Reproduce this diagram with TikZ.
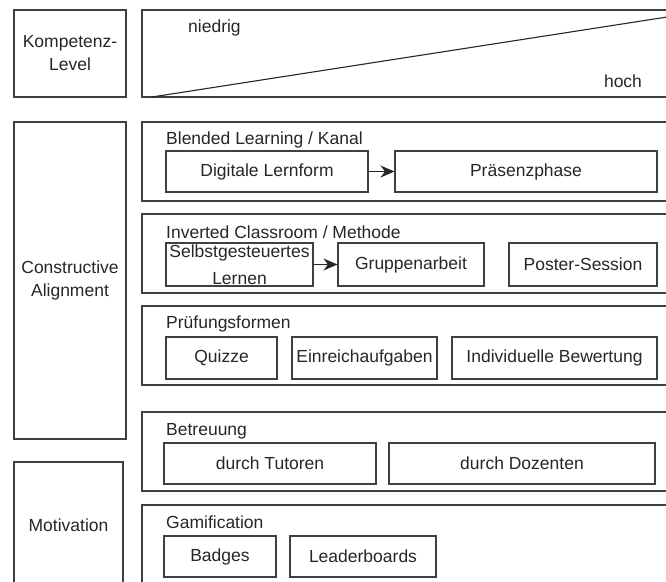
\documentclass[tikz,border=0pt]{standalone}
\usepackage{fontspec}
\setmainfont{Liberation Sans}
\usetikzlibrary{arrows.meta,positioning}

\begin{document}
\begin{tikzpicture}[x=1pt, y=-1pt, > = {Stealth[length=14pt,width=12pt]}, font=\fontsize{17.5}{23}\selectfont, text=black!85]
            % Stile
            \tikzstyle{frame}=[rectangle, draw=black!75, line width=1.1pt, inner sep=0pt, align=center]
            \tikzstyle{item}=[rectangle, draw=black!75, line width=1.1pt, inner sep=0pt, minimum height=41pt, align=center]
            \tikzstyle{title}=[anchor=west, inner sep=0pt]

            \useasboundingbox (0,0) rectangle (666,581);
            \clip (0,0) rectangle (666,581);

            % Linke Spalte
            \node[frame, minimum width=112pt, minimum height=87pt] (level) at (70,53.5) {Kompetenz-\\Level};
            \node[frame, minimum width=112pt, minimum height=317pt] (align) at (70,280.5) {Constructive\\Alignment};
            \node[frame, minimum width=109pt, minimum height=126pt] (motiv) at (68.5,525) {Motivation};

            % Kompetenz-Level
            \node[frame, minimum width=538pt, minimum height=87pt] (scale) at (411,53.5) {};
            \coordinate (low) at (152,97);
            \coordinate (high) at (680,15);
            \draw[black!85, line width=1.1pt] (low) -- (high);
            \node[title] (niedrig) at (188,28) {niedrig};
            \node (hoch) at (623,81) {hoch};

            % Blended Learning
            \node[frame, minimum width=538pt, minimum height=79pt] (blended) at (411,161.5) {};
            \node[title] (blendedT) at (166,140) {Blended Learning / Kanal};
            \node[item, minimum width=202pt] (digital) at (267,171.5) {Digitale Lernform};
            \node[item, minimum width=262pt] (praesenz) at (526,171.5) {Präsenzphase};

            % Inverted Classroom
            \node[frame, minimum width=538pt, minimum height=79pt] (inverted) at (411,253.5) {};
            \node[title] (invertedT) at (166,232) {Inverted Classroom / Methode};
            \node[item, minimum width=147pt, minimum height=43pt, font=\fontsize{17.5}{27}\selectfont] (selbst) at (239.5,264.5) {Selbstgesteuertes\\Lernen};
            \node[item, minimum width=146pt, minimum height=43pt] (gruppe) at (411,264.5) {Gruppenarbeit};
            \node[item, minimum width=148pt, minimum height=43pt] (poster) at (583,264.5) {Poster-Session};

            % Pruefungsformen
            \node[frame, minimum width=538pt, minimum height=79pt] (pruefung) at (411,345.5) {};
            \node[title] (pruefungT) at (166,324) {Prüfungsformen};
            \node[item, minimum width=111pt, minimum height=42pt] (quiz) at (221.5,358) {Quizze};
            \node[item, minimum width=145pt, minimum height=42pt] (einreich) at (364.5,358) {Einreichaufgaben};
            \node[item, minimum width=205pt, minimum height=42pt] (bewertung) at (554.5,358) {Individuelle Bewertung};

            % Betreuung
            \node[frame, minimum width=538pt, minimum height=79pt] (betreuung) at (411,451.5) {};
            \node[title] (betreuungT) at (166,431) {Betreuung};
            \node[item, minimum width=212pt] (tutor) at (270,463.5) {durch Tutoren};
            \node[item, minimum width=266pt] (dozent) at (522,463.5) {durch Dozenten};

            % Gamification
            \node[frame, minimum width=538pt, minimum height=79pt] (gami) at (411,544.5) {};
            \node[title] (gamiT) at (166,522) {Gamification};
            \node[item, minimum width=112pt] (badges) at (220,556.5) {Badges};
            \node[item, minimum width=146pt] (leader) at (363,556.5) {Leaderboards};

            % Pfeile
            \draw[->, black!85, line width=1.1pt] (digital) -- (praesenz);
            \draw[->, black!85, line width=1.1pt] (selbst) -- (gruppe);
        \end{tikzpicture}
\end{document}
